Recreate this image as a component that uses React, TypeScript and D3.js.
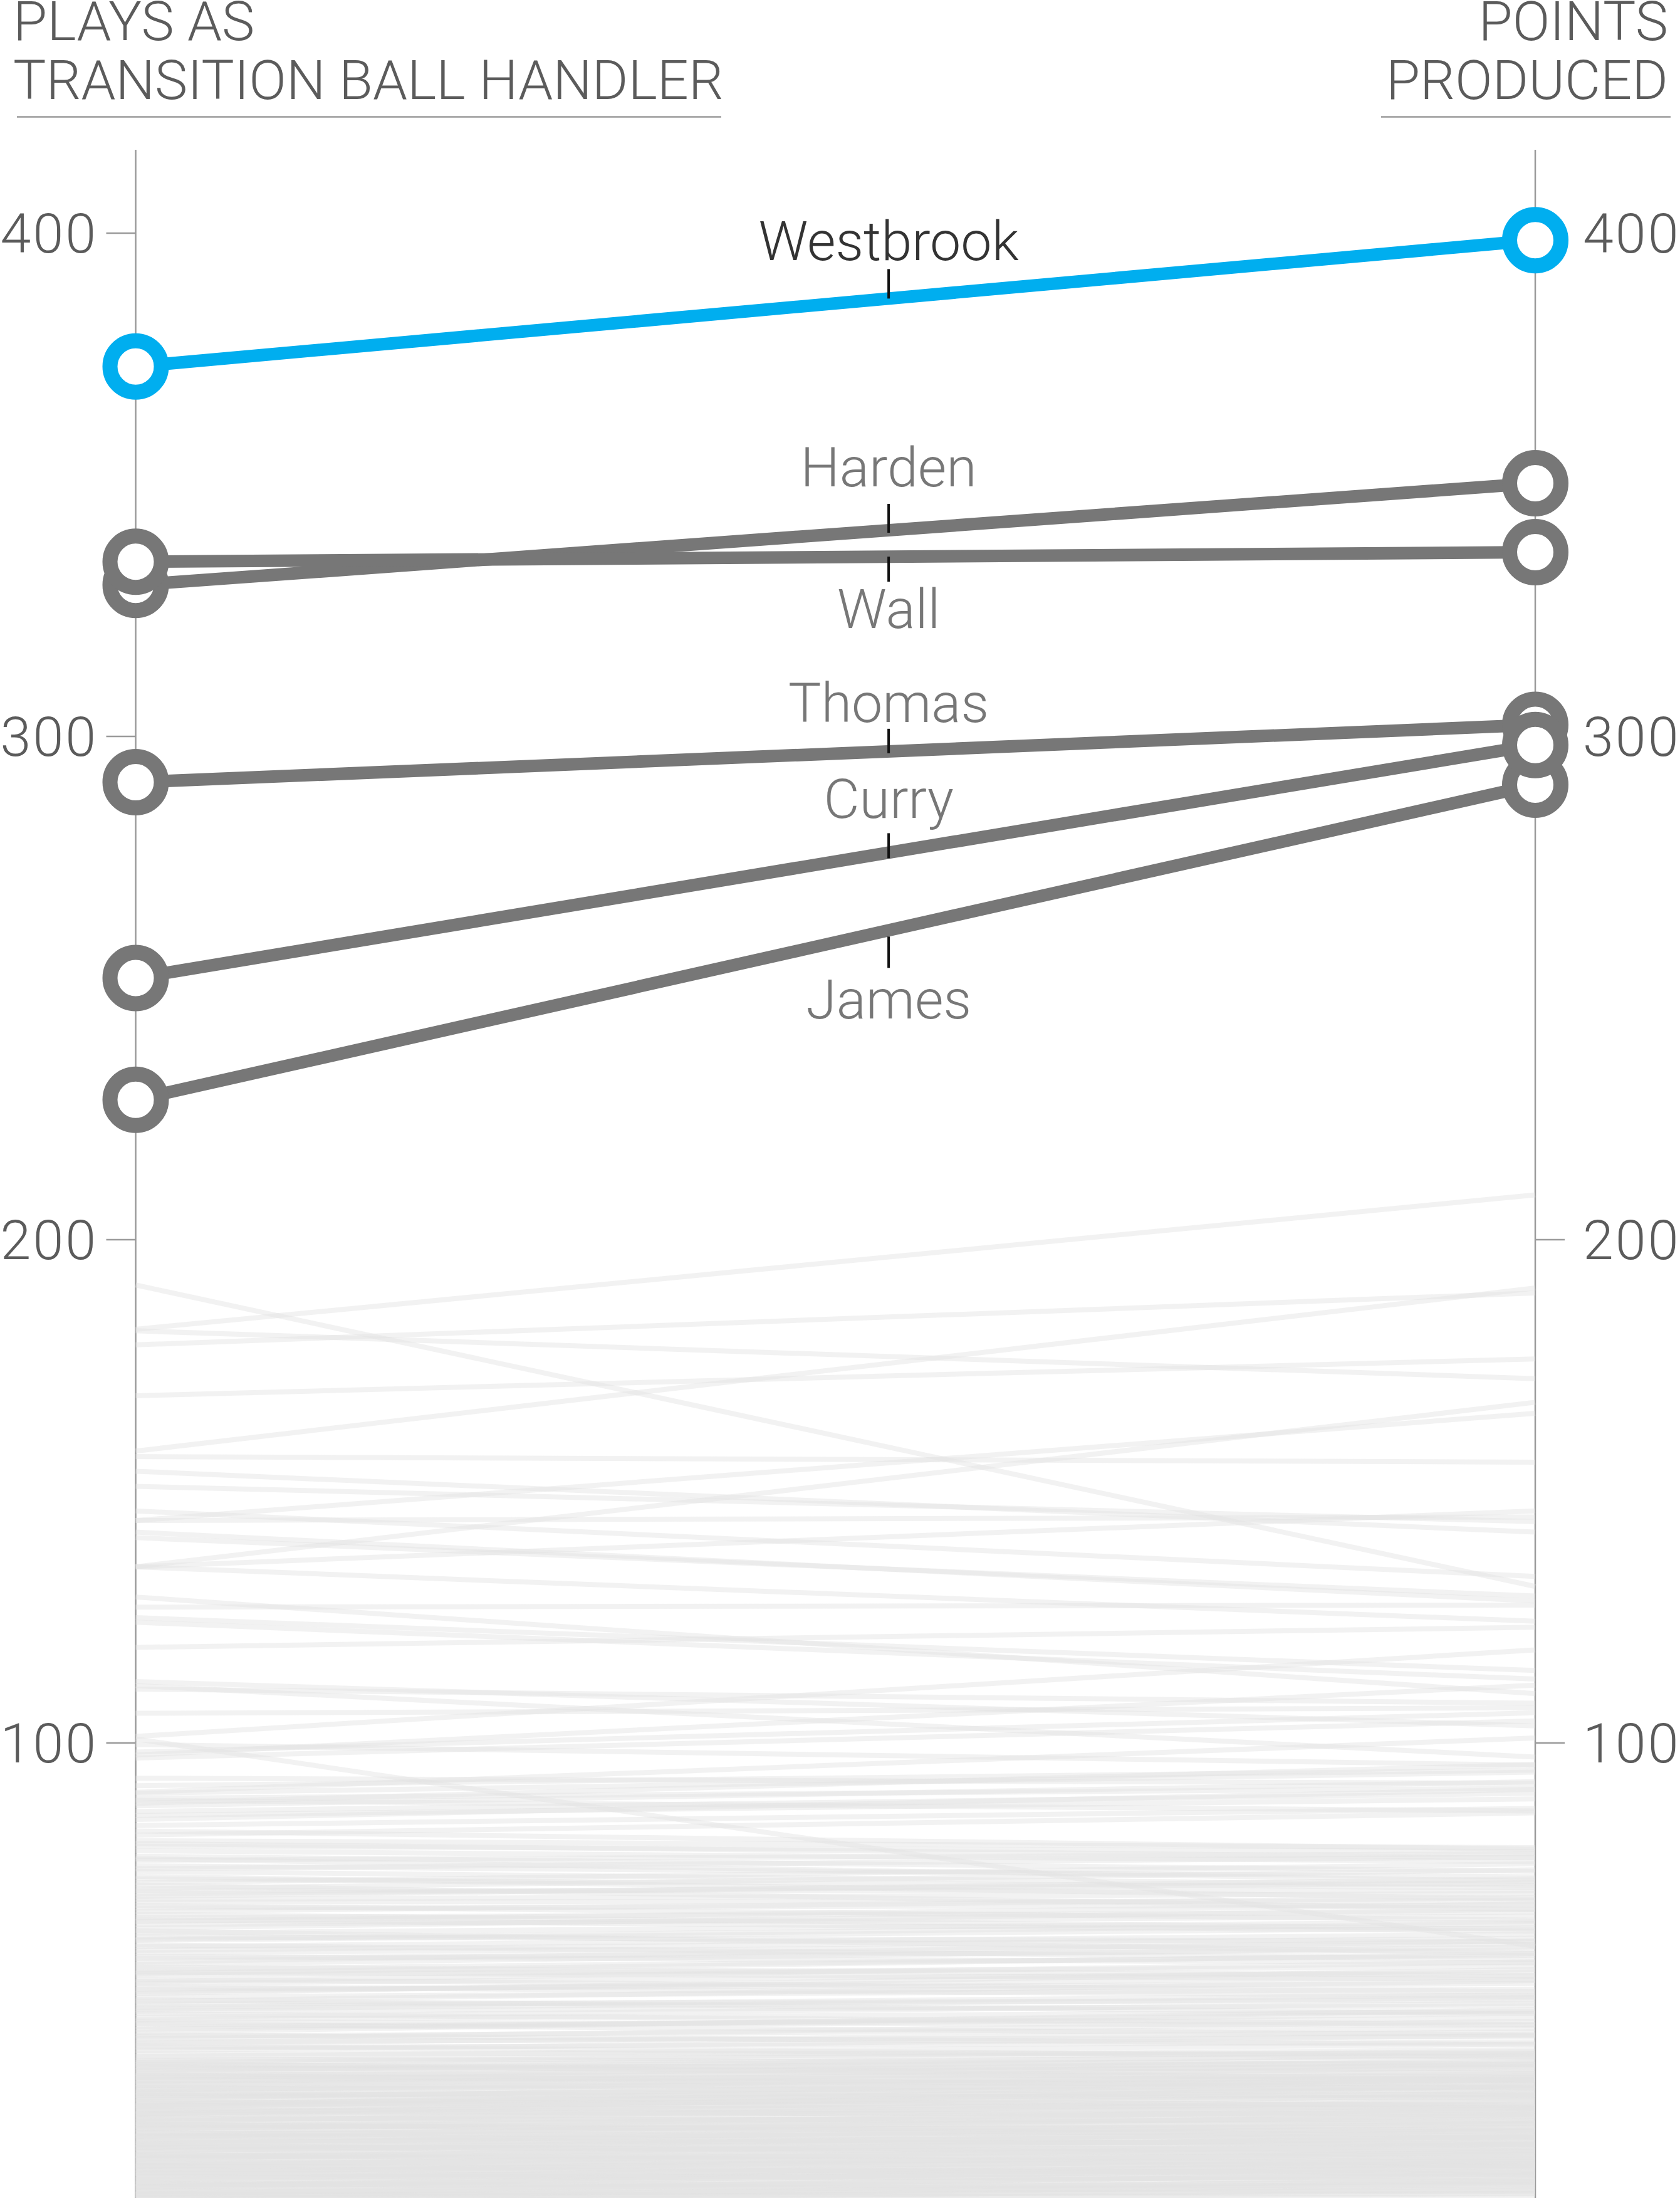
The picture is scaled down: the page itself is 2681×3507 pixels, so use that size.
import React from "react";
import * as d3 from "d3";

// highlighted players: plays as transition ball handler -> points produced
const players = ["Harden", "Wall", "Thomas", "James", "Curry", "Westbrook"];
const plays = [330.1, 334.7, 290.9, 227.8, 252.0, 373.5];
const points = [350.3, 336.6, 302.3, 290.4, 298.3, 398.6];

// everybody else (left value, right value)
const otherPlays = [
  182.2, 191.0, 179.1, 181.9, 169.0, 158.0, 156.9, 154.0, 151.0, 146.1,
  144.2, 144.2, 135.0, 141.9, 135.0, 140.8, 135.0, 129.0, 127.0, 124.9,
  124.0, 119.0, 112.2, 111.4, 110.7, 105.9, 101.3, 100.8, 98.2, 97.0,
  99.7, 97.6, 90.2, 91.5, 93.0, 89.0, 88.0,
  90.0, 87.5, 86.4, 85.6, 83.6, 81.7, 80.6, 79.5, 78.6, 77.5,
  76.7, 75.6, 74.5, 72.2, 70.6, 69.5, 68.4, 67.2, 65.3, 63.9,
  62.2, 60.8, 59.5, 58.3, 57.2, 55.0, 53.9, 52.2, 51.1, 49.5,
  48.1, 46.7, 45.0, 43.6, 41.7, 40.6, 39.4, 38.3,
  73.5, 71.0, 66.0, 64.5, 61.5, 56.0, 54.5, 50.2, 47.5, 44.2, 42.5,
  88.6, 84.8, 82.5, 80.0, 77.0, 75.0, 73.0, 71.8, 70.0, 68.9,
  67.7, 66.5, 64.9, 63.2, 62.7, 61.0, 59.9, 58.8, 57.6, 56.5,
  55.5, 54.2, 53.1, 52.6, 51.6, 50.6, 49.0, 48.6, 47.1, 46.2,
  45.5, 44.6, 43.1, 42.0, 41.2, 40.3, 39.8, 38.9, 37.7, 37.3,
  36.8, 36.1, 35.7, 35.2, 34.9, 34.3, 33.9, 33.5, 33.1, 32.8,
  32.3, 31.9, 31.5, 31.2, 30.7, 30.3, 29.9, 29.6, 29.1, 28.8,
  28.3, 27.9, 27.6, 27.2, 26.8, 26.5, 26.0, 25.7, 25.3, 24.9,
  24.6, 24.1, 23.8, 23.4, 23.1, 22.7, 22.3, 21.9, 21.6, 21.2,
  20.8, 20.5, 20.1, 19.7, 19.4, 19.0, 18.7, 18.3, 17.9, 17.6,
  17.2, 16.9, 16.5, 16.2, 15.8, 15.5, 15.1, 14.8, 14.4, 14.1,
  13.7, 13.4, 13.0, 12.7, 12.3, 12.0, 11.6, 11.3, 10.9, 10.6,
  10.2, 9.9, 9.5, 9.2, 8.8,
  34.0, 30.0, 26.2, 22.0, 18.0, 14.6, 12.5, 36.4, 28.0, 24.3,
  20.0, 16.0, 11.8, 10.4,
  36.5, 35.5, 34.6, 33.7, 32.9, 32.1, 31.0, 30.5, 29.4, 28.6,
  27.7, 27.0, 26.3, 25.5, 24.8, 24.0, 23.3, 22.5, 21.8, 21.0,
  20.3, 19.6, 18.9, 18.1, 17.4, 16.7, 15.9, 15.3, 14.5, 13.9,
  13.2, 12.4, 11.7, 11.0, 10.3, 9.6, 9.0,
];
const otherPoints = [
  208.9, 131.1, 189.4, 172.4, 176.3, 190.4, 155.8, 141.9, 144.0, 133.1,
  144.9, 165.5, 167.7, 128.2, 146.1, 129.2, 124.2, 109.8, 127.4, 114.4,
  112.7, 123.0, 103.4, 97.2, 107.9, 107.0, 118.5, 59.6, 106.0, 104.4,
  95.6, 111.5, 101.0, 94.6, 92.0, 91.0, 95.7,
  94.2, 92.3, 90.0, 88.9, 87.0, 86.1, 79.2, 78.4, 76.4, 74.5,
  78.0, 73.4, 71.7, 76.0, 70.6, 73.0, 68.6, 67.8, 66.4, 65.6,
  64.5, 63.3, 62.0, 60.0, 58.9, 57.8, 55.6, 54.5, 52.2, 51.1,
  48.9, 47.8, 46.7, 45.3, 43.3, 41.7, 40.6, 38.3,
  69.0, 74.8, 63.0, 68.0, 60.5, 59.5, 53.0, 55.0, 50.0, 42.0, 47.0,
  86.5, 90.8, 78.9, 77.2, 72.5, 77.4, 71.2, 66.9, 72.2, 70.1,
  64.8, 69.3, 62.6, 67.0, 58.2, 64.1, 57.0, 61.2, 56.3, 60.7,
  53.8, 58.1, 50.6, 56.5, 49.7, 53.6, 46.2, 52.8, 49.4, 44.1,
  48.3, 43.9, 46.3, 40.1, 44.7, 42.6, 37.6, 41.9, 40.2, 36.1,
  39.1, 35.2, 37.9, 36.4, 38.2, 33.6, 35.8, 36.9, 32.2, 34.7,
  33.5, 35.6, 30.8, 32.9, 33.8, 29.4, 31.7, 32.8, 30.2, 28.1,
  31.2, 29.7, 27.0, 30.5, 28.4, 26.3, 29.1, 27.6, 25.1, 28.0,
  26.7, 24.4, 26.9, 25.6, 23.7, 25.9, 24.2, 22.8, 24.9, 23.3,
  21.7, 23.6, 22.1, 20.9, 22.7, 21.3, 19.8, 21.6, 20.2, 18.9,
  20.7, 19.1, 17.8, 19.6, 18.2, 16.9, 18.7, 17.3, 15.8, 17.6,
  16.2, 14.9, 16.5, 15.3, 13.9, 15.6, 14.1, 12.8, 14.4, 13.0,
  11.9, 13.2, 11.1, 12.3, 10.5,
  31.5, 27.8, 31.9, 20.1, 16.4, 12.9, 10.8, 33.0, 33.1, 21.9,
  18.2, 14.3, 16.8, 9.6,
  38.7, 34.4, 37.3, 33.0, 36.2, 31.4, 34.3, 30.0, 33.3, 27.4,
  32.0, 25.8, 30.1, 24.7, 29.0, 23.0, 27.3, 21.5, 26.2, 20.4,
  24.5, 19.3, 23.1, 17.6, 21.9, 16.0, 20.3, 14.6, 18.8, 13.6,
  17.2, 12.0, 15.9, 10.4, 14.8, 12.6, 11.4,
];

const yTicks = [100, 200, 300, 400];
const leftTitle = ["PLAYS AS", "TRANSITION BALL HANDLER"];
const rightTitle = ["POINTS", "PRODUCED"];

// label placement relative to the line at the label column
const labelSpots: Record<string, { t0: number; t1: number; dy: number }> = {
  Westbrook: { t0: 0, t1: -47, dy: -61 },
  Harden: { t0: 4, t1: -42, dy: -70 },
  Wall: { t0: 0, t1: 40, dy: 114 },
  Thomas: { t0: 3, t1: -36, dy: -47 },
  Curry: { t0: 9, t1: -31, dy: -55 },
  James: { t0: 10, t1: 60, dy: 141 },
};

const W = 2681;
const H = 3507;
const FONT = "Roboto, 'Liberation Sans', Arial, sans-serif";
const TEXT = "#5b5b5b";
const AXIS = "#9a9a9a";
const GRAY = "#777777";
const BLUE = "#00aeef";
const FS = 88;

export default function App() {
  const x = d3.scaleLinear().domain([0, 1]).range([216.5, 2450]);
  const y = d3.scaleLinear().domain([0, 400]).range([3584, 372]);
  const labelT = 0.538;
  const labelX = x(labelT);
  const line = d3
    .line<[number, number]>()
    .x((d) => x(d[0]))
    .y((d) => y(d[1]));

  const axisTop = 239;

  return (
    <div style={{ position: "absolute", left: 0, top: 0 }}>
      <svg width={W} height={H} style={{ display: "block" }} fontFamily={FONT}>
        <rect width={W} height={H} fill="#fff" />

        {/* titles */}
        <g fill={TEXT} fontSize={FS} fontWeight={300}>
          {leftTitle.map((t, i) => (
            <text key={t} x={21} y={64 + i * 94}>
              {t}
            </text>
          ))}
          {rightTitle.map((t, i) => (
            <text key={t} x={2662} y={64 + i * 94} textAnchor="end">
              {t}
            </text>
          ))}
        </g>
        <line x1={27} x2={1151} y1={186.5} y2={186.5} stroke={AXIS} strokeWidth={2.5} />
        <line x1={2204} x2={2666} y1={186.5} y2={186.5} stroke={AXIS} strokeWidth={2.5} />

        {/* axes */}
        {[0, 1].map((side) => (
          <line
            key={side}
            x1={x(side)}
            x2={x(side)}
            y1={axisTop}
            y2={H}
            stroke={AXIS}
            strokeWidth={2.5}
          />
        ))}
        {yTicks.map((t) => (
          <g key={t}>
            <line x1={x(0) - 47} x2={x(0)} y1={y(t)} y2={y(t)} stroke={AXIS} strokeWidth={2.5} />
            <line x1={x(1)} x2={x(1) + 47} y1={y(t)} y2={y(t)} stroke={AXIS} strokeWidth={2.5} />
            <text
              x={156}
              y={y(t) + 31}
              textAnchor="end"
              fill={TEXT}
              fontSize={FS}
              fontWeight={300}
              letterSpacing={3}
            >
              {t}
            </text>
            <text x={2526} y={y(t) + 31} fill={TEXT} fontSize={FS} fontWeight={300} letterSpacing={3}>
              {t}
            </text>
          </g>
        ))}

        {/* background players */}
        <g fill="none" stroke="#e2e2e2" strokeOpacity={0.45} strokeWidth={8}>
          {otherPlays.map((p, i) => (
            <path
              key={i}
              d={line([
                [0, p],
                [1, otherPoints[i]],
              ]) as string}
            />
          ))}
        </g>

        {/* highlighted players */}
        {players.map((name, i) => (
          <path
            key={name}
            d={line([
              [0, plays[i]],
              [1, points[i]],
            ]) as string}
            fill="none"
            stroke={name === "Westbrook" ? BLUE : GRAY}
            strokeWidth={20}
          />
        ))}
        {players.map((name, i) => (
          <g key={name} fill="#fff" stroke={name === "Westbrook" ? BLUE : GRAY} strokeWidth={24}>
            <circle cx={x(0)} cy={y(plays[i])} r={41} />
            <circle cx={x(1)} cy={y(points[i])} r={41} />
          </g>
        ))}

        {/* labels */}
        {players.map((name, i) => {
          const ly = y(plays[i] + labelT * (points[i] - plays[i]));
          const s = labelSpots[name];
          return (
            <g key={name}>
              <line
                x1={labelX}
                x2={labelX}
                y1={ly + s.t0}
                y2={ly + s.t1}
                stroke="#111"
                strokeWidth={4}
              />
              <text
                x={labelX}
                y={ly + s.dy}
                textAnchor="middle"
                fontSize={FS}
                fontWeight={300}
                fill={name === "Westbrook" ? "#333" : GRAY}
              >
                {name}
              </text>
            </g>
          );
        })}
      </svg>
    </div>
  );
}
